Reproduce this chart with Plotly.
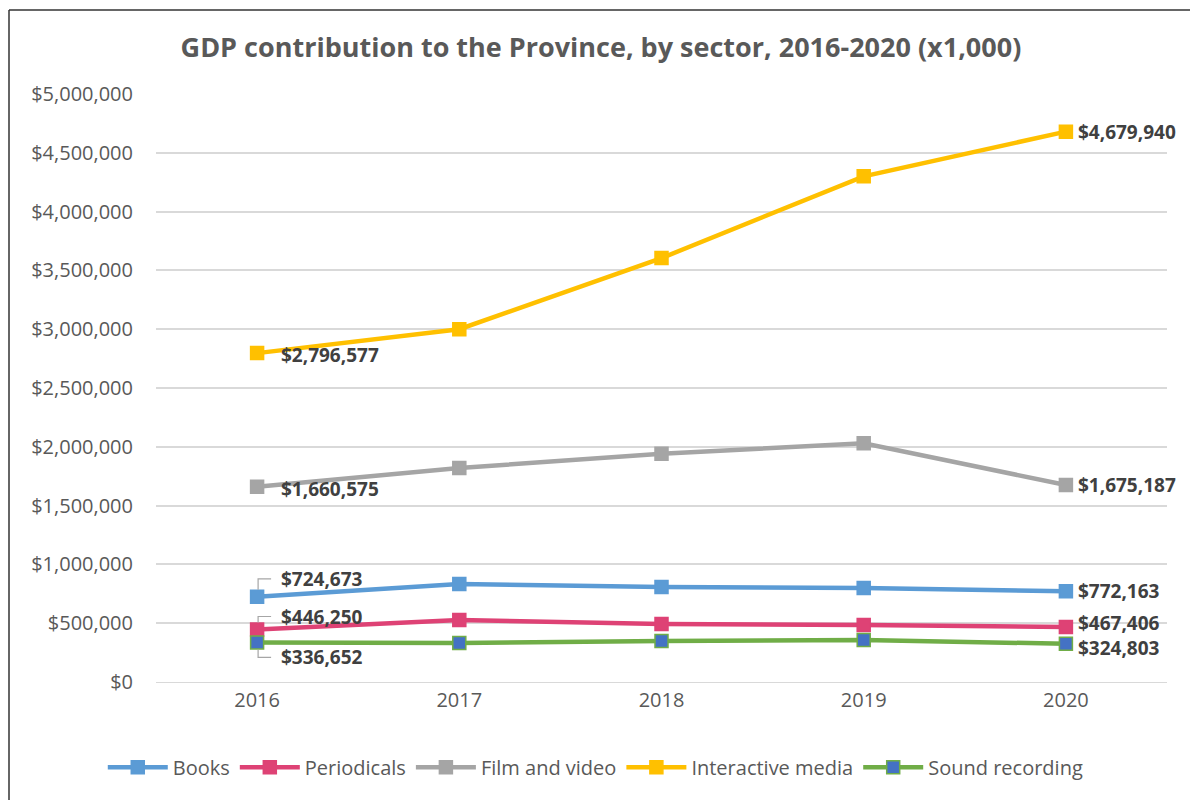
import plotly.graph_objects as go

years = ["2016", "2017", "2018", "2019", "2020"]
books = [724673, 833000, 808000, 800000, 772163]
periodicals = [446250, 527000, 493000, 485000, 467406]
film_video = [1660575, 1820000, 1940000, 2030000, 1675187]
interactive = [2796577, 3000000, 3605000, 4300000, 4679940]
sound = [336652, 332000, 349000, 357000, 324803]

y_ticks = [0, 500000, 1000000, 1500000, 2000000, 2500000, 3000000, 3500000, 4000000, 4500000, 5000000]

series = [
    ("Books", books, "#5B9BD5", "#5B9BD5"),
    ("Periodicals", periodicals, "#DE4275", "#DE4275"),
    ("Film and video", film_video, "#A5A5A5", "#A5A5A5"),
    ("Interactive media", interactive, "#FFC000", "#FFC000"),
    ("Sound recording", sound, "#70AD47", "#4472C4"),
]

fig = go.Figure()
for name, vals, lc, mc in series:
    fig.add_trace(go.Scatter(
        x=years, y=vals, name=name, mode="lines+markers",
        line=dict(color=lc, width=4.5),
        marker=dict(symbol="square", size=13, color=mc, line=dict(color=lc, width=1.5)),
    ))

def money(v):
    return "${:,}".format(v)

lab_font = dict(family="Open Sans", size=19, color="#404040")

# category positions (index) of first and last year
first_idx = 0
last_idx = len(years) - 1

first_offsets = {
    "Books": (22, 18),
    "Periodicals": (22, 13),
    "Film and video": (22, -2),
    "Interactive media": (22, -2),
    "Sound recording": (22, -15),
}
last_offsets = {
    "Books": (10, 0),
    "Periodicals": (10, 4),
    "Film and video": (10, 0),
    "Interactive media": (10, 0),
    "Sound recording": (10, -4),
}
for name, vals, lc, mc in series:
    dx, dy = first_offsets[name]
    fig.add_annotation(x=first_idx, y=vals[0], xref="x", yref="y",
                       text="<b>" + money(vals[0]) + "</b>",
                       showarrow=False, xanchor="left", yanchor="middle",
                       xshift=dx, yshift=dy, font=lab_font)
    dx, dy = last_offsets[name]
    fig.add_annotation(x=last_idx, y=vals[-1], xref="x", yref="y",
                       text="<b>" + money(vals[-1]) + "</b>",
                       showarrow=False, xanchor="left", yanchor="middle",
                       xshift=dx, yshift=dy, font=lab_font)

# leader lines at 2016 for the close labels
leaders = [
    (books[0], "M 1 7 L 1 18 L 14 18"),
    (periodicals[0], "M 1 7 L 1 13 L 14 13"),
    (sound[0], "M 1 -7 L 1 -15 L 14 -15"),
]
for v, path in leaders:
    fig.add_shape(type="path", xref="x", yref="y", xsizemode="pixel", ysizemode="pixel",
                  xanchor=first_idx, yanchor=v, path=path,
                  line=dict(color="#A6A6A6", width=1.2))

# outer border (left and top)
fig.add_shape(type="line", xref="paper", yref="paper", x0=-0.1454, x1=-0.1454, y0=-0.3, y1=1.1429,
              line=dict(color="#333333", width=1.5))
fig.add_shape(type="line", xref="paper", yref="paper", x0=-0.1454, x1=1.1, y0=1.1429, y1=1.1429,
              line=dict(color="#333333", width=1.5))

fig.update_layout(
    width=1190, height=800,
    margin=dict(l=156, r=23, t=94, b=118),
    paper_bgcolor="white", plot_bgcolor="white",
    title=dict(text="<b>GDP contribution to the Province, by sector, 2016-2020 (x1,000)</b>",
               x=0.505, xanchor="center", y=0.941, yanchor="middle",
               font=dict(family="Open Sans", size=27, color="#595959")),
    font=dict(family="Open Sans", color="#595959"),
    xaxis=dict(type="category", range=[-0.5, 4.5], showgrid=False, showline=True,
               linecolor="#D9D9D9", linewidth=1, ticks="",
               tickfont=dict(family="Open Sans", size=20, color="#595959")),
    yaxis=dict(range=[0, 5000000], tickvals=y_ticks,
               ticktext=[money(v) for v in y_ticks],
               showgrid=True, gridcolor="#D9D9D9", gridwidth=1.5, zeroline=False,
               showline=False, ticks="", ticklabelstandoff=22,
               tickfont=dict(family="Open Sans", size=20, color="#595959")),
    legend=dict(orientation="h", x=0.435, xanchor="center", y=-0.145, yanchor="middle",
                font=dict(family="Open Sans", size=20, color="#595959"),
                itemwidth=60, traceorder="normal"),
    showlegend=True,
)

fig.write_html("out.html")
